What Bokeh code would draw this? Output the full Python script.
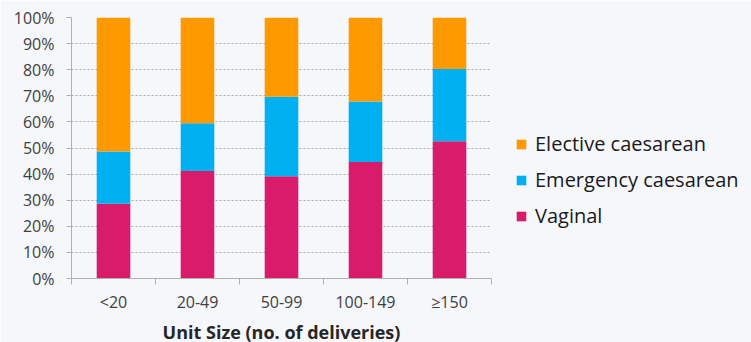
from bokeh.plotting import figure
from bokeh.models import FixedTicker, Legend, LegendItem, Range1d
from bokeh.embed import file_html
from bokeh.resources import INLINE

categories = ["<20", "20-49", "50-99", "100-149", "≥150"]
vaginal = [28.6, 41.2, 39.2, 44.6, 52.6]
emergency = [20.1, 18.3, 30.4, 23.2, 27.7]
elective = [51.3, 40.5, 30.4, 32.2, 19.7]
series_names = ["Vaginal", "Emergency caesarean", "Elective caesarean"]
colors = ["#D81B6A", "#00B0F0", "#FF9900"]
y_ticks = [0, 10, 20, 30, 40, 50, 60, 70, 80, 90, 100]

xs = [i + 1 for i in range(len(categories))]
data = dict(x=xs, v=vaginal, em=emergency, el=elective)

FONT = "Open Sans"
BG = "#f5f7fa"

p = figure(frame_width=420, frame_height=261, output_backend="svg", toolbar_location=None,
           x_range=Range1d(0.5, len(categories) + 0.5), y_range=Range1d(0, 100),
           min_border_left=71, min_border_right=0, min_border_top=17, min_border_bottom=0)
p.background_fill_color = BG
p.border_fill_color = BG
p.outline_line_color = None

rs = p.vbar_stack(["v", "em", "el"], x="x", width=0.4, color=colors, source=data, line_color=None)

# axes
p.xaxis.ticker = FixedTicker(ticks=xs, minor_ticks=[x - 0.5 for x in xs] + [xs[-1] + 0.5])
p.xaxis.major_label_overrides = {x: c for x, c in zip(xs, categories)}
p.xaxis.major_tick_line_color = None
p.xaxis.minor_tick_in = 0
p.xaxis.minor_tick_out = 6
p.xaxis.minor_tick_line_color = "#b0b0b0"
p.xaxis.axis_line_color = "#b0b0b0"
p.xaxis.major_label_text_font = FONT
p.xaxis.major_label_text_font_size = "16px"
p.xaxis.major_label_text_color = "#404040"
p.xaxis.major_label_standoff = 6
p.xaxis.axis_label = "Unit Size (no. of deliveries)"
p.xaxis.axis_label_text_font = FONT
p.xaxis.axis_label_text_font_size = "18px"
p.xaxis.axis_label_text_font_style = "bold"
p.xaxis.axis_label_text_color = "#262626"
p.xaxis.axis_label_standoff = 4

p.yaxis.ticker = FixedTicker(ticks=y_ticks)
p.yaxis.major_label_overrides = {t: f"{t}%" for t in y_ticks}
p.yaxis.minor_tick_line_color = None
p.yaxis.major_tick_in = 0
p.yaxis.major_tick_out = 5
p.yaxis.major_tick_line_color = "#b0b0b0"
p.yaxis.axis_line_color = "#b0b0b0"
p.yaxis.major_label_text_font = FONT
p.yaxis.major_label_text_font_size = "16px"
p.yaxis.major_label_text_color = "#404040"
p.yaxis.major_label_standoff = 12

p.xgrid.grid_line_color = None
p.ygrid.grid_line_color = "#a8a8a8"
p.ygrid.grid_line_dash = "2 2"
p.ygrid.grid_line_width = 1

items = [LegendItem(label=n, renderers=[r]) for n, r in zip(series_names, rs)][::-1]
legend = Legend(items=items, location=(24, 49), orientation="vertical")
legend.label_text_font = FONT
legend.label_text_font_size = "20px"
legend.label_text_color = "#1a1a1a"
legend.glyph_width = 12
legend.glyph_height = 12
legend.label_height = 23
legend.spacing = 9
legend.padding = 0
legend.margin = 0
legend.label_standoff = 8
legend.border_line_color = None
legend.background_fill_alpha = 0
p.add_layout(legend, "right")

open("out.html", "w").write(file_html(p, INLINE))
